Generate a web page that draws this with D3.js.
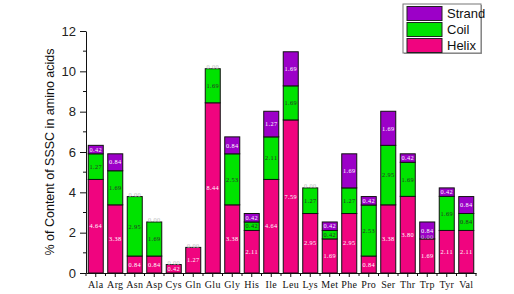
<!DOCTYPE html>
<html lang="en">
<head>
<meta charset="UTF-8">
<title>% of Content of SSSC in amino acids</title>
<script src="https://d3js.org/d3.v7.min.js"></script>
<style>
  body { margin: 0; background: #fff; }
  svg { display: block; }
  .seg-label { font-family: "Liberation Serif", serif; font-size: 6.3px; text-anchor: middle; letter-spacing: 0.4px; }
  .x-axis text { font-family: "Liberation Serif", serif; font-size: 10px; fill: #111; letter-spacing: 0.3px; }
  .y-axis text { font-family: "Liberation Sans", Arial, sans-serif; font-size: 13px; fill: #222; }
  .axis-label { font-family: "Liberation Sans", Arial, sans-serif; font-size: 12.5px; fill: #111; }
  .legend-text { font-family: "Liberation Sans", Arial, sans-serif; font-size: 13px; fill: #111; }
</style>
</head>
<body>
<svg width="514" height="294"></svg>
<script>
// values
const aminoAcids = ["Ala", "Arg", "Asn", "Asp", "Cys", "Gln", "Glu", "Gly", "His", "Ile",
                    "Leu", "Lys", "Met", "Phe", "Pro", "Ser", "Thr", "Trp", "Tyr", "Val"];
const helix  = [4.64, 3.38, 0.84, 0.84, 0.42, 1.27, 8.44, 3.38, 2.11, 4.64,
                7.59, 2.95, 1.69, 2.95, 0.84, 3.38, 3.80, 1.69, 2.11, 2.11];
const coil   = [1.27, 1.69, 2.95, 1.69, 0.00, 0.00, 1.69, 2.53, 0.42, 2.11,
                1.69, 1.27, 0.42, 1.27, 2.53, 2.95, 1.69, 0.00, 1.69, 0.84];
const strand = [0.42, 0.84, 0.00, 0.00, 0.00, 0.00, 0.00, 0.84, 0.42, 1.27,
                1.69, 0.00, 0.42, 1.69, 0.42, 1.69, 0.42, 0.84, 0.42, 0.84];
const yTicks = [0, 2, 4, 6, 8, 10, 12];
const yMinorTicks = [1, 3, 5, 7, 9, 11];
const seriesNames = ["Helix", "Coil", "Strand"];

const colors = { Helix: "#f0047f", Coil: "#00e300", Strand: "#9c00c8" };
const labelColors = { Helix: "#ffffff", Coil: "#2a2a2a", Strand: "#ffffff" };

const rows = aminoAcids.map((aa, i) => ({ aa, Helix: helix[i], Coil: coil[i], Strand: strand[i] }));
const stacked = d3.stack().keys(seriesNames)(rows);

const svg = d3.select("svg");
const plotLeft = 86, plotRight = 476, plotTop = 31, plotBottom = 273;

const x = d3.scaleBand()
    .domain(aminoAcids)
    .range([plotLeft, plotRight])
    .paddingInner(0.23)
    .paddingOuter(0.115);

const y = d3.scaleLinear()
    .domain([0, 12])
    .range([plotBottom, plotTop]);

// bars
const layers = svg.selectAll(".layer")
    .data(stacked)
    .enter()
    .append("g")
    .attr("class", "layer")
    .attr("fill", d => colors[d.key]);

layers.selectAll("rect")
    .data(d => d)
    .enter()
    .append("rect")
    .attr("x", d => x(d.data.aa))
    .attr("y", d => y(d[1]))
    .attr("width", x.bandwidth())
    .attr("height", d => y(d[0]) - y(d[1]))
    .attr("stroke", "#111")
    .attr("stroke-width", 1);

// value labels in each segment; a zero segment only gets a label if no
// other zero segment above it sits at the same spot
stacked.forEach((layer, li) => {
    const shown = layer.filter((d, i) =>
        d.data[layer.key] !== 0 || stacked.slice(li + 1).every(l => l[i].data[l.key] !== 0));
    svg.selectAll(".seg-" + layer.key)
        .data(shown)
        .enter()
        .append("text")
        .attr("class", "seg-label")
        .attr("x", d => x(d.data.aa) + x.bandwidth() / 2)
        .attr("y", d => d.data[layer.key] === 0 ? y(d[1]) + 0.5 : (y(d[0]) + y(d[1])) / 2 + 2.2)
        .attr("fill", d => d.data[layer.key] === 0 ? "#bbbbbb" : labelColors[layer.key])
        .text(d => d.data[layer.key].toFixed(2));
});

// x axis
const xAxis = svg.append("g")
    .attr("class", "x-axis")
    .attr("transform", `translate(0,${plotBottom})`)
    .call(d3.axisBottom(x).tickSize(4).tickPadding(4).tickSizeOuter(0));
xAxis.select(".domain").attr("stroke", "#111");
xAxis.selectAll(".tick line").attr("stroke", "#111");

// minor ticks between categories
const bounds = aminoAcids.map(a => x(a) - x.step() * x.paddingInner() / 2).concat([plotRight]);
xAxis.selectAll(".minor")
    .data(bounds)
    .enter()
    .append("line")
    .attr("x1", d => d).attr("x2", d => d)
    .attr("y1", 0).attr("y2", 3)
    .attr("stroke", "#111");

// y axis
const yAxis = svg.append("g")
    .attr("class", "y-axis")
    .attr("transform", `translate(${plotLeft},0)`)
    .call(d3.axisLeft(y).tickValues(yTicks).tickSize(6).tickPadding(4).tickSizeOuter(0));
yAxis.select(".domain").attr("stroke", "#111");
yAxis.selectAll(".tick line").attr("stroke", "#111");
yAxis.selectAll(".minor")
    .data(yMinorTicks)
    .enter()
    .append("line")
    .attr("x1", -3).attr("x2", 0)
    .attr("y1", d => y(d)).attr("y2", d => y(d))
    .attr("stroke", "#111");

svg.append("text")
    .attr("class", "axis-label")
    .attr("transform", `translate(54,${(plotTop + plotBottom) / 2}) rotate(-90)`)
    .attr("text-anchor", "middle")
    .text("% of Content of SSSC in amino acids");

// legend
const legend = svg.append("g").attr("transform", "translate(403,4)");
legend.append("rect")
    .attr("x", 1).attr("y", 1)
    .attr("width", 78).attr("height", 49)
    .attr("fill", "#999");
legend.append("rect")
    .attr("width", 78).attr("height", 49)
    .attr("fill", "#fff")
    .attr("stroke", "#777");
["Strand", "Coil", "Helix"].forEach((name, i) => {
    legend.append("rect")
        .attr("x", 4).attr("y", 2.5 + i * 16)
        .attr("width", 35).attr("height", 14)
        .attr("fill", colors[name])
        .attr("stroke", "#222");
    legend.append("text")
        .attr("class", "legend-text")
        .attr("x", 44).attr("y", 14 + i * 16)
        .text(name);
});
</script>
</body>
</html>
